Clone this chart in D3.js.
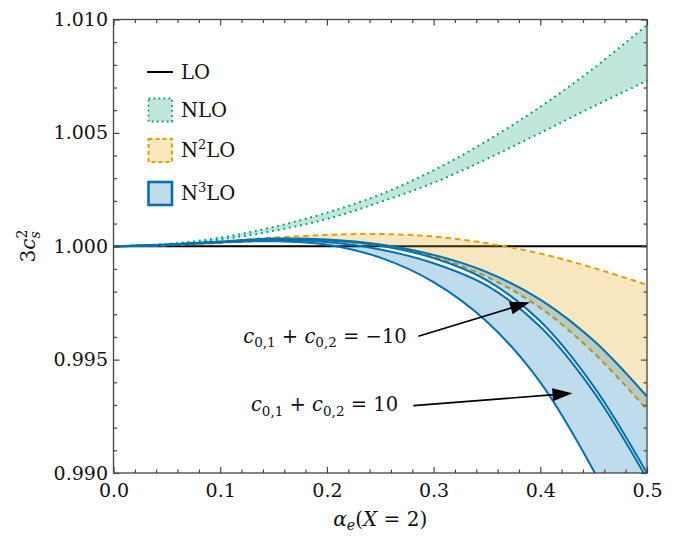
<!DOCTYPE html>
<html><head><meta charset="utf-8">
<script src="https://cdn.jsdelivr.net/npm/d3@7/dist/d3.min.js"></script>
<style>
body{margin:0;background:#fff}
svg{display:block}
text{font-family:"DejaVu Serif",serif;fill:#111}
</style>
</head><body>
<svg id="c" width="674" height="537"></svg>
<script>
// ---- data ----
const alpha    = [0, 0.05, 0.10, 0.15, 0.20, 0.25, 0.30, 0.35, 0.40, 0.45, 0.50];
const lo       = [1, 1, 1, 1, 1, 1, 1, 1, 1, 1, 1];
const nloUpper = [1.0, 1.00010, 1.00038, 1.00085, 1.00148, 1.00228, 1.00335, 1.00465, 1.00615, 1.00785, 1.00976];
const nloLower = [1.0, 1.00008, 1.00030, 1.00068, 1.00120, 1.00195, 1.00280, 1.00385, 1.00500, 1.00617, 1.00730];
const n2Upper  = [1.0, 1.00005, 1.00020, 1.00038, 1.00050, 1.00054, 1.00043, 1.00013, 0.99968, 0.99904, 0.99830];
const n2Lower  = [1.0, 1.00004, 1.00015, 1.00025, 1.00022, 1.00003, 0.99955, 0.99865, 0.99728, 0.99530, 0.99280];
// N3LO, c01+c02 = -10 band
const n3mUpper = [1.0, 1.00007, 1.00021, 1.00034, 1.00030, 1.00008, 0.99962, 0.99886, 0.99765, 0.99584, 0.99337];
const n3mLower = [1.0, 1.00006, 1.00019, 1.00031, 1.00026, 1.00002, 0.99948, 0.99850, 0.99669, 0.99382, 0.98999];
// N3LO, c01+c02 = 10 band
const n3pUpper = [1.0, 1.00005, 1.00017, 1.00027, 1.00019, 0.99986, 0.99925, 0.99826, 0.99645, 0.99358, 0.98975];
const n3pLower = [1.0, 1.00008, 1.00018, 1.00022, 1.00007, 0.99950, 0.99842, 0.99667, 0.99400, 0.99010, 0.98530];

const xMajor = [0, 0.1, 0.2, 0.3, 0.4, 0.5];
const yMajor = [0.990, 0.995, 1.000, 1.005, 1.010];
const legendLabels = ["LO", "NLO", "N2LO", "N3LO"];
// annotation arrows: [rhs, start alpha, start value, tip alpha, tip value, label right alpha, label baseline value]
const annot = [
  ["\u2212" + "10", 0.2857, 0.99603, 0.3903, 0.99753, 0.2748, 0.99574],
  ["10",            0.2810, 0.99297, 0.4302, 0.99352, 0.2667, 0.99272]
];

// ---- layout ----
const C = {teal:"#009E73", orange:"#E69F00", blue:"#0072B2"};
const m = {l:113.5, r:647, t:19.5, b:473};
const svg = d3.select("#c");
const x = d3.scaleLinear().domain([0, 0.5]).range([m.l, m.r]);
const y = d3.scaleLinear().domain([0.99, 1.01]).range([m.b, m.t]);

svg.append("defs").append("clipPath").attr("id","clip")
  .append("rect").attr("x",m.l).attr("y",m.t).attr("width",m.r-m.l).attr("height",m.b-m.t);
const plot = svg.append("g").attr("clip-path","url(#clip)");

const curve = d3.curveCatmullRom;
const areaGen = (lower, upper) => d3.area()
  .x((d,i)=>x(alpha[i])).y0((d,i)=>y(lower[i])).y1((d,i)=>y(upper[i])).curve(curve)(alpha);
const lineGen = (vals) => d3.line().x((d,i)=>x(alpha[i])).y((d,i)=>y(vals[i])).curve(curve)(alpha);

// LO
plot.append("path").attr("d", lineGen(lo)).attr("fill","none").attr("stroke","#000").attr("stroke-width",1.8);

// NLO
plot.append("path").attr("d", areaGen(nloLower, nloUpper)).attr("fill",C.teal).attr("fill-opacity",0.25);
[nloLower, nloUpper].forEach(v => plot.append("path").attr("d", lineGen(v)).attr("fill","none")
  .attr("stroke",C.teal).attr("stroke-width",2).attr("stroke-dasharray","1.8,3.9"));

// N2LO
plot.append("path").attr("d", areaGen(n2Lower, n2Upper)).attr("fill",C.orange).attr("fill-opacity",0.25);
[n2Lower, n2Upper].forEach(v => plot.append("path").attr("d", lineGen(v)).attr("fill","none")
  .attr("stroke",C.orange).attr("stroke-width",2).attr("stroke-dasharray","5.5,4"));

// N3LO bands
[[n3mLower, n3mUpper],[n3pLower, n3pUpper]].forEach(([a,b]) =>
  plot.append("path").attr("d", areaGen(a,b)).attr("fill",C.blue).attr("fill-opacity",0.25));
[n3mUpper, n3mLower, n3pUpper, n3pLower].forEach(v => plot.append("path").attr("d", lineGen(v))
  .attr("fill","none").attr("stroke",C.blue).attr("stroke-width",2));

// ---- axes ----
const fr = "#444";
const minorX = d3.range(0, 0.5001, 0.02).filter(v => xMajor.every(t => Math.abs(t-v) > 1e-9));
const minorY = d3.range(0.990, 1.01001, 0.001).filter(v => yMajor.every(t => Math.abs(t-v) > 1e-9));

function styleAxis(g){ g.select(".domain").remove(); g.selectAll("line").attr("stroke",fr).attr("stroke-width",1.2);
  g.selectAll("text").attr("font-size",19).attr("font-family","DejaVu Serif").attr("fill","#111"); }

svg.append("g").attr("transform",`translate(0,${m.b})`)
  .call(d3.axisBottom(x).tickValues(xMajor).tickSize(-6).tickPadding(10.5).tickFormat(d3.format(".1f"))).call(styleAxis);
svg.append("g").attr("transform",`translate(0,${m.b})`)
  .call(d3.axisBottom(x).tickValues(minorX).tickSize(-3.5).tickFormat("")).call(styleAxis);
svg.append("g").attr("transform",`translate(0,${m.t})`)
  .call(d3.axisTop(x).tickValues(xMajor).tickSize(-6).tickFormat("")).call(styleAxis);
svg.append("g").attr("transform",`translate(0,${m.t})`)
  .call(d3.axisTop(x).tickValues(minorX).tickSize(-3.5).tickFormat("")).call(styleAxis);

svg.append("g").attr("transform",`translate(${m.l},0)`)
  .call(d3.axisLeft(y).tickValues(yMajor).tickSize(-6).tickPadding(5.5).tickFormat(d3.format(".3f"))).call(styleAxis);
svg.append("g").attr("transform",`translate(${m.l},0)`)
  .call(d3.axisLeft(y).tickValues(minorY).tickSize(-3.5).tickFormat("")).call(styleAxis);
svg.append("g").attr("transform",`translate(${m.r},0)`)
  .call(d3.axisRight(y).tickValues(yMajor).tickSize(-6).tickFormat("")).call(styleAxis);
svg.append("g").attr("transform",`translate(${m.r},0)`)
  .call(d3.axisRight(y).tickValues(minorY).tickSize(-3.5).tickFormat("")).call(styleAxis);

svg.append("rect").attr("x",m.l).attr("y",m.t).attr("width",m.r-m.l).attr("height",m.b-m.t)
  .attr("fill","none").attr("stroke",fr).attr("stroke-width",1.3);

// axis titles
const xt = svg.append("text").attr("x",(m.l+m.r)/2).attr("y",526).attr("text-anchor","middle").attr("font-size",20);
xt.append("tspan").attr("font-style","italic").text("\u03B1");
xt.append("tspan").attr("font-style","italic").attr("font-size",14).attr("dy",4).text("e");
xt.append("tspan").attr("dy",-4).text("(");
xt.append("tspan").attr("font-style","italic").text("X");
xt.append("tspan").attr("style","white-space:pre").text(" = 2)");

const yt = svg.append("text").attr("transform","translate(35,246) rotate(-90)").attr("text-anchor","middle").attr("font-size",20);
yt.append("tspan").text("3");
yt.append("tspan").attr("font-style","italic").text("c");
yt.append("tspan").attr("font-style","italic").attr("font-size",14).attr("dy",5).text("s");
yt.append("tspan").attr("font-size",14).attr("dx",-7).attr("dy",-13).text("2");

// ---- legend ----
const lg = svg.append("g");
const ly = [72, 110, 150.5, 193.5];
lg.append("line").attr("x1",147).attr("x2",173).attr("y1",ly[0]).attr("y2",ly[0]).attr("stroke","#000").attr("stroke-width",2);
const boxes = [
  [1, C.teal, "1.8,3.2", 1.8],
  [2, C.orange, "4,3", 2],
  [3, C.blue, null, 2.6]
];
boxes.forEach(([i,col,dash,sw]) => {
  const r = lg.append("rect").attr("x",148.5).attr("y",ly[i]-11.5).attr("width",23.5).attr("height",23)
    .attr("fill",col).attr("fill-opacity",0.25).attr("stroke",col).attr("stroke-width",sw);
  if (dash) r.attr("stroke-dasharray",dash);
});
legendLabels.forEach((lab,i) => {
  const t = lg.append("text").attr("x",181).attr("y",ly[i]+6.5).attr("font-size",19.5);
  const mm = lab.match(/^N(\d)LO$/);
  if (mm) {
    t.append("tspan").text("N");
    t.append("tspan").attr("font-size",13).attr("dy",-8).text(mm[1]);
    t.append("tspan").attr("dy",8).text("LO");
  } else t.text(lab);
});

// ---- annotations ----
annot.forEach(([rhs, sx, sv, tx, tv, lx, lv]) => {
  const x0 = x(sx), y0 = y(sv), x1 = x(tx), y1 = y(tv);
  const ang = Math.atan2(y1-y0, x1-x0), hl = 20, hw = 6.5;
  const bx = x1 - hl*Math.cos(ang), by = y1 - hl*Math.sin(ang);
  svg.append("line").attr("x1",x0).attr("y1",y0).attr("x2",bx+2*Math.cos(ang)).attr("y2",by+2*Math.sin(ang))
    .attr("stroke","#000").attr("stroke-width",1.6);
  const px = -Math.sin(ang), py = Math.cos(ang);
  svg.append("polygon").attr("points",[[x1,y1],[bx+hw*px,by+hw*py],[bx-hw*px,by-hw*py]].map(p=>p.join(",")).join(" "))
    .attr("fill","#000");
  const t = svg.append("text").attr("x",x(lx)).attr("y",y(lv)).attr("text-anchor","end")
    .attr("font-size",19.5).attr("style","white-space:pre");
  t.append("tspan").attr("font-style","italic").text("c");
  t.append("tspan").attr("font-size",13.5).attr("dy",4.5).text("0,1");
  t.append("tspan").attr("dy",-4.5).text(" + ");
  t.append("tspan").attr("font-style","italic").text("c");
  t.append("tspan").attr("font-size",13.5).attr("dy",4.5).text("0,2");
  t.append("tspan").attr("dy",-4.5).text(" = " + rhs);
});
</script>
</body></html>
